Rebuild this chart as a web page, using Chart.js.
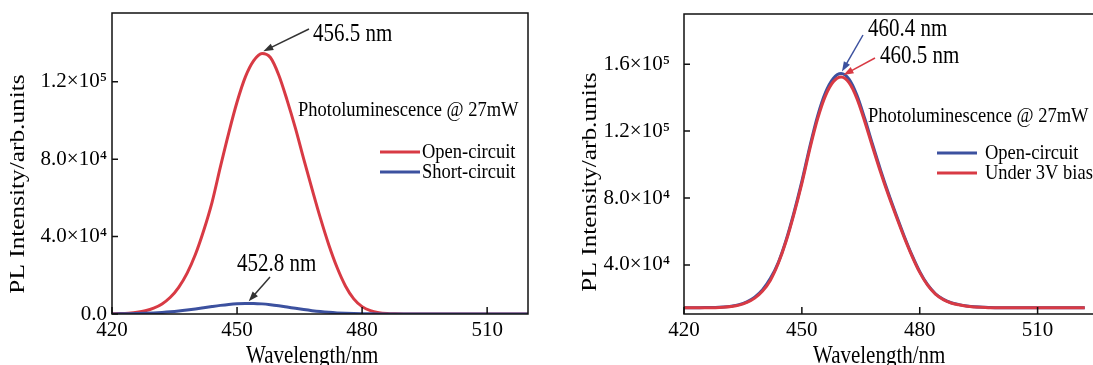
<!DOCTYPE html>
<html>
<head>
<meta charset="utf-8">
<script src="https://cdn.jsdelivr.net/npm/chart.js@4.4.1/dist/chart.umd.min.js"></script>
<style>
  html, body { margin: 0; padding: 0; background: #fff; overflow: hidden; }
  body { width: 1093px; height: 365px; position: relative; }
  canvas { position: absolute; top: 0; }
  #leftChart { left: 0; }
  #rightChart { left: 570px; }
</style>
</head>
<body>
<canvas id="leftChart" width="545" height="365"></canvas>
<canvas id="rightChart" width="540" height="365"></canvas>
<script>
// ---- left panel data ----
const leftWavelength = [420,422,424,426,428,430,432,434,436,438,440,442,444,446,448,450,452,454,456,458,460,462,464,466,468,470,472,474,476,478,480,482,484,486,488,490,492,494,496,498,500,502,504,506,508,510,512,514,516,518,520];
const leftOpen = [100,210,440,860,1640,2990,5190,8640,13800,21000,30700,43100,57700,76000,93500,109500,122500,130900,134600,132500,123500,110500,96000,80000,64500,49500,35800,24000,14500,7800,3800,1700,700,250,80,0,0,0,0,0,0,0,0,0,0,0,0,0,0,0,0];
const leftShort = [40,75,130,210,340,520,780,1110,1530,2040,2620,3240,3870,4460,4960,5310,5480,5460,5230,4800,4240,3600,2940,2300,1730,1250,870,580,370,230,140,80,45,25,10,0,0,0,0,0,0,0,0,0,0,0,0,0,0,0,0];
const leftNames = ['Open-circuit', 'Short-circuit'];
const leftXTicks = [420, 450, 480, 510];
const leftYTicks = [0, 40000, 80000, 120000];
const leftYLabels = ['0.0', '4.0×10⁴', '8.0×10⁴', '1.2×10⁵'];
const leftPeakLabels = ['456.5 nm', '452.8 nm'];
const leftPeakX = [456.3, 452.8];
const leftPeakY = [134700, 5500];

// ---- right panel data ----
const rightWavelength = [420,422,424,426,428,430,432,434,436,438,440,442,444,446,448,450,452,454,456,458,460,462,464,466,468,470,472,474,476,478,480,482,484,486,488,490,492,494,496,498,500,502,504,506,508,510,512,514,516,518,520,522];
const rightOpen = [14500,14500,14500,14550,14600,14900,15400,16300,18000,20800,25200,32000,41500,55000,71500,90000,110500,129000,143000,151500,154400,151000,141500,127500,112000,97000,83000,70000,57500,46000,36000,28200,22800,19500,17400,16300,15500,15000,14800,14600,14500,14500,14500,14500,14500,14500,14500,14500,14500,14500,14500,14500];
const rightBias = [14400,14400,14400,14450,14500,14750,15200,16000,17600,20200,24400,30900,41000,54300,70600,88800,109100,127300,141100,149500,152400,149000,139600,125800,110500,95700,81900,69100,56800,45500,35600,27900,22600,19300,17300,16200,15300,14900,14700,14500,14400,14400,14400,14400,14400,14400,14400,14400,14400,14400,14400,14400];
const rightNames = ['Open-circuit', 'Under 3V bias'];
const rightXTicks = [420, 450, 480, 510];
const rightYTicks = [40000, 80000, 120000, 160000];
const rightYLabels = ['4.0×10⁴', '8.0×10⁴', '1.2×10⁵', '1.6×10⁵'];
const rightPeakLabels = ['460.4 nm', '460.5 nm'];
const rightPeakX = [460.2, 460.6];
const rightPeakY = [154400, 152400];

const RED = '#d83a44';
const BLUE = '#3c519f';
const FONT = '"Liberation Serif", "Times New Roman", serif';
const STRETCH = 1.15; // glyphs in the figure are a bit taller than wide

const pts = (xs, ys) => xs.map((x, i) => ({x: x, y: ys[i]}));

function text(ctx, str, x, y, size, rotate) {
  ctx.save();
  ctx.translate(x, y);
  if (rotate) { ctx.rotate(-Math.PI / 2); ctx.scale(STRETCH, 1); }
  else ctx.scale(1, STRETCH);
  ctx.font = size + 'px ' + FONT;
  ctx.fillStyle = '#000';
  ctx.textAlign = rotate ? 'center' : 'left';
  ctx.textBaseline = 'middle';
  ctx.fillText(str, 0, 0);
  ctx.restore();
}

function arrow(ctx, x1, y1, x2, y2, color) {
  const a = Math.atan2(y2 - y1, x2 - x1);
  const c = Math.cos(a), s = Math.sin(a);
  ctx.save();
  ctx.strokeStyle = color;
  ctx.fillStyle = color;
  ctx.lineWidth = 1.5;
  ctx.beginPath();
  ctx.moveTo(x1, y1);
  ctx.lineTo(x2 - 6 * c, y2 - 6 * s);
  ctx.stroke();
  ctx.beginPath();
  ctx.moveTo(x2, y2);
  ctx.lineTo(x2 - 10 * c + 3.5 * s, y2 - 10 * s - 3.5 * c);
  ctx.lineTo(x2 - 10 * c - 3.5 * s, y2 - 10 * s + 3.5 * c);
  ctx.closePath();
  ctx.fill();
  ctx.restore();
}

function panelPlugin(p) {
  return {
    id: 'panel',
    afterDatasetsDraw(chart) {
      const {ctx, chartArea: a, scales: {x, y}} = chart;
      ctx.save();
      ctx.strokeStyle = '#111';
      ctx.lineWidth = 1.5;
      ctx.strokeRect(a.left, a.top, a.right - a.left, a.bottom - a.top);
      ctx.beginPath();
      p.xTicks.forEach(v => {
        const px = x.getPixelForValue(v);
        ctx.moveTo(px, a.bottom); ctx.lineTo(px, a.bottom - 7);
      });
      p.yTicks.forEach(v => {
        const py = y.getPixelForValue(v);
        ctx.moveTo(a.left, py); ctx.lineTo(a.left + 6, py);
      });
      ctx.stroke();
      ctx.restore();
    },
    afterDraw(chart) {
      const {ctx, scales: {x, y}} = chart;
      p.notes.forEach((n, i) => {
        text(ctx, p.peakLabels[i], n.x, n.y, 21);
        arrow(ctx, n.from[0], n.from[1], x.getPixelForValue(p.peakX[i]), y.getPixelForValue(p.peakY[i]) - 2, n.color);
      });
      text(ctx, 'Photoluminescence @ 27mW', p.pl[0], p.pl[1], 18.5);
      p.names.forEach((name, i) => {
        const ly = p.legend.y[i];
        ctx.save();
        ctx.strokeStyle = p.colors[i];
        ctx.lineWidth = 3;
        ctx.beginPath();
        ctx.moveTo(p.legend.x1, ly); ctx.lineTo(p.legend.x2, ly);
        ctx.stroke();
        ctx.restore();
        text(ctx, name, p.legend.tx, ly, 18.5);
      });
      text(ctx, 'Wavelength/nm', p.xTitle[0], p.xTitle[1], 21);
      text(ctx, 'PL Intensity/arb.units', p.yTitle[0], p.yTitle[1], 22, true);
    }
  };
}

// tick labels may hang over the plot box; do not let them shrink it
function noOverhang(s) {
  s.paddingTop = 0; s.paddingBottom = 0; s.paddingLeft = 0; s.paddingRight = 0;
}

function makeChart(id, o) {
  return new Chart(document.getElementById(id), {
    type: 'line',
    data: {
      datasets: o.series.map((s, i) => ({
        data: pts(o.wl, s),
        borderColor: o.colors[i],
        borderWidth: 3,
        pointRadius: 0,
        cubicInterpolationMode: 'monotone',
        order: o.order[i]
      }))
    },
    options: {
      responsive: false,
      animation: false,
      layout: { padding: o.padding },
      plugins: { legend: { display: false }, tooltip: { enabled: false } },
      scales: {
        x: {
          type: 'linear', min: 420, max: o.xMax,
          grid: { display: false, drawTicks: false },
          border: { display: false },
          afterBuildTicks: s => { s.ticks = o.xTicks.map(v => ({value: v})); },
          afterFit: s => { s.height = 51; noOverhang(s); },
          ticks: { color: '#000', font: { family: FONT, size: 21 }, padding: 4, maxRotation: 0,
            callback: v => String(v) }
        },
        y: {
          type: 'linear', min: o.yMin, max: o.yMax,
          grid: { display: false, drawTicks: false },
          border: { display: false },
          afterBuildTicks: s => { s.ticks = o.yTicks.map(v => ({value: v})); },
          afterFit: s => { s.width = o.yWidth; noOverhang(s); },
          ticks: { color: '#000', font: { family: FONT, size: 21 }, padding: o.yPad,
            callback: v => o.yLabels[o.yTicks.indexOf(v)] }
        }
      }
    },
    plugins: [panelPlugin(o.plugin)]
  });
}

makeChart('leftChart', {
  wl: leftWavelength,
  series: [leftOpen, leftShort],
  colors: [RED, BLUE],
  order: [1, 0],
  padding: { top: 13, right: 17, left: 0, bottom: 0 },
  xMax: 519.8, yMin: 0, yMax: 155500, yWidth: 112, yPad: 5,
  xTicks: leftXTicks, yTicks: leftYTicks, yLabels: leftYLabels,
  plugin: {
    xTicks: leftXTicks, yTicks: leftYTicks,
    peakLabels: leftPeakLabels, peakX: leftPeakX, peakY: leftPeakY,
    notes: [
      { x: 313, y: 35, from: [309, 29], color: '#333' },
      { x: 237, y: 265, from: [270, 277], color: '#333' }
    ],
    pl: [298, 110],
    names: leftNames, colors: [RED, BLUE],
    legend: { x1: 380, x2: 420, tx: 422, y: [152, 172] },
    xTitle: [246, 357],
    yTitle: [18, 184]
  }
});

makeChart('rightChart', {
  wl: rightWavelength,
  series: [rightOpen, rightBias],
  colors: [BLUE, RED],
  order: [1, 0],
  padding: { top: 14, right: 6, left: 0, bottom: 0 },
  xMax: 526.9, yMin: 10700, yMax: 190000, yWidth: 114, yPad: 14,
  xTicks: rightXTicks, yTicks: rightYTicks, yLabels: rightYLabels,
  plugin: {
    xTicks: rightXTicks, yTicks: rightYTicks,
    peakLabels: rightPeakLabels, peakX: rightPeakX, peakY: rightPeakY,
    notes: [
      { x: 298, y: 30, from: [293, 35], color: BLUE },
      { x: 310, y: 57, from: [305, 58], color: RED }
    ],
    pl: [298, 116],
    names: rightNames, colors: [BLUE, RED],
    legend: { x1: 367, x2: 407, tx: 415, y: [153, 173] },
    xTitle: [243, 357],
    yTitle: [20, 182]
  }
});
</script>
</body>
</html>
